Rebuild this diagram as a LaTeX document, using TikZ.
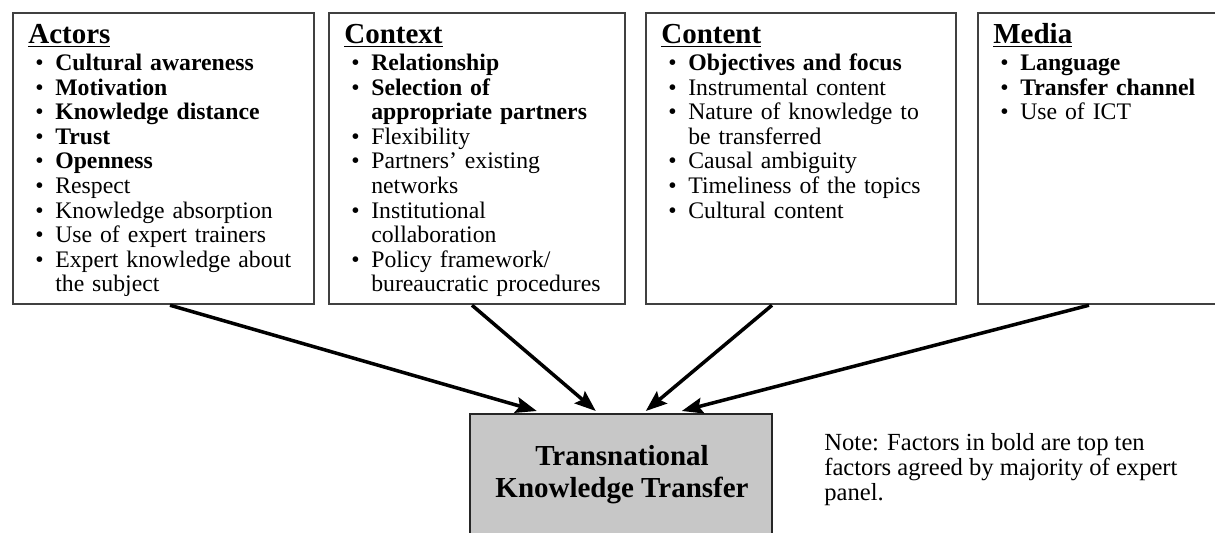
\documentclass[tikz,border=0pt]{standalone}
\usepackage{fontspec}
\setmainfont{Liberation Serif}
\usetikzlibrary{arrows.meta,calc}

% one bulleted factor, second line hangs under the text
\newcommand{\fbul}[1]{\par\hangindent=0.54cm\hangafter=1\noindent\hbox to 0.54cm{\hskip0.14cm\textbullet\hfil}#1\par}
% underlined heading of a factor group
\newcommand{\fhead}[1]{\rule{0pt}{12pt}{\fontsize{16.5pt}{16.5pt}\selectfont\underline{\textbf{#1}}}\par\vspace{1.4pt}}

\tikzset{
  factorbox/.style={draw=black!75, line width=1.3pt, anchor=north west, minimum height=5.82cm, inner sep=0pt},
  factorlist/.style={anchor=north west, inner sep=0pt, align=left, font=\fontsize{13.5pt}{14pt}\selectfont},
  hubbox/.style={draw=black!85, line width=1.4pt, fill=black!22, anchor=north, minimum width=6.04cm, minimum height=2.8cm},
  hubtext/.style={anchor=north, inner sep=0pt, align=center, font=\fontsize{16.5pt}{18.2pt}\selectfont\bfseries},
  feed/.style={line width=2pt, -{Stealth[length=12pt,width=9pt,inset=2pt]}}
}

\begin{document}
\begin{tikzpicture}[x=0.02cm,y=-0.02cm]
    \useasboundingbox (0,0) rectangle (1215,533);

    % Factor groups
    \node[factorbox, minimum width=6.02cm] (actors) at (12,12) {};
    \node[factorbox, minimum width=5.92cm] (context) at (328,12) {};
    \node[factorbox, minimum width=6.2cm] (content) at (645,12) {};
    \node[factorbox, minimum width=5.2cm] (media) at (977,12) {};

    \node[factorlist, text width=5.38cm] (actorslist) at ($(actors.north west)+(16,10)$) {%
        \fhead{Actors}
        \fbul{\textbf{Cultural awareness}}
        \fbul{\textbf{Motivation}}
        \fbul{\textbf{Knowledge distance}}
        \fbul{\textbf{Trust}}
        \fbul{\textbf{Openness}}
        \fbul{Respect}
        \fbul{Knowledge absorption}
        \fbul{Use of expert trainers}
        \fbul{Expert knowledge about\newline the subject}};
    \node[factorlist, text width=5.28cm] (contextlist) at ($(context.north west)+(16,10)$) {%
        \fhead{Context}
        \fbul{\textbf{Relationship}}
        \fbul{\textbf{Selection of\newline appropriate partners}}
        \fbul{Flexibility}
        \fbul{Partners’ existing\newline networks}
        \fbul{Institutional\newline collaboration}
        \fbul{Policy framework/\newline bureaucratic procedures}};
    \node[factorlist, text width=5.56cm] (contentlist) at ($(content.north west)+(16,10)$) {%
        \fhead{Content}
        \fbul{\textbf{Objectives and focus}}
        \fbul{Instrumental content}
        \fbul{Nature of knowledge to\newline be transferred}
        \fbul{Causal ambiguity}
        \fbul{Timeliness of the topics}
        \fbul{Cultural content}};
    \node[factorlist, text width=4.4cm] (medialist) at ($(media.north west)+(16,10)$) {%
        \fhead{Media}
        \fbul{\textbf{Language}}
        \fbul{\textbf{Transfer channel}}
        \fbul{Use of ICT}};

    % Transfer box
    \node[hubbox] (hub) at (621,413) {};
    \node[hubtext] (hubtitle) at ($(hub.north)+(1,32)$) {Transnational\\Knowledge Transfer};

    % Arrows into the transfer box
    \draw[feed] ($(actors.south west)+(158,0)$) -- ($(hub.north west)+(68,-2)$);
    \draw[feed] ($(context.south west)+(144,0)$) -- ($(hub.north west)+(127,-2)$);
    \draw[feed] ($(content.south west)+(127,0)$) -- ($(hub.north west)+(177,-2)$);
    \draw[feed] ($(media.south west)+(112,0)$) -- ($(hub.north west)+(213,-2)$);

    % Note
    \node[anchor=north west, inner sep=0pt, align=left, font=\fontsize{14pt}{14.2pt}\selectfont] (note) at (824,433)
        {Note: Factors in bold are top ten\\factors agreed by majority of expert\\panel.};
\end{tikzpicture}
\end{document}
